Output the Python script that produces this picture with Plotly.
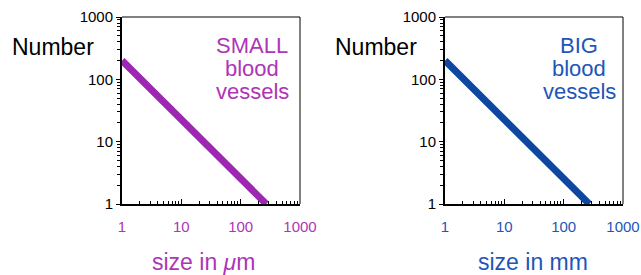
import plotly.graph_objects as go

# Data
sizes_small = [1, 270]
counts_small = [200, 1]
sizes_big = [1, 270]
counts_big = [200, 1]
tick_vals = [1, 10, 100, 1000]
tick_text = ["1", "10", "100", "1000"]
minor_vals = [m * d for d in (1, 10, 100) for m in range(2, 10)]

PURPLE_LINE = "#9C27B0"
PURPLE_TEXT = "#AD35B8"
BLUE_LINE = "#0D47A1"
BLUE_TEXT = "#1E56B8"
FONT = "Liberation Sans, Arial, sans-serif"

fig = go.Figure()
fig.add_trace(go.Scatter(x=sizes_small, y=counts_small, mode="lines",
                         line=dict(color=PURPLE_LINE, width=7), xaxis="x", yaxis="y",
                         showlegend=False, cliponaxis=True))
fig.add_trace(go.Scatter(x=sizes_big, y=counts_big, mode="lines",
                         line=dict(color=BLUE_LINE, width=7), xaxis="x2", yaxis="y2",
                         showlegend=False, cliponaxis=True))

W, H = 641, 275
def xd(a, b):
    return [a / W, b / W]
ydom = [1 - 204 / H, 1 - 17 / H]

def xaxis(dom, color, anchor):
    return dict(type="log", range=[0, 3], domain=dom, anchor=anchor,
                tickvals=tick_vals, ticktext=tick_text,
                tickfont=dict(color=color, size=15, family=FONT),
                ticks="inside", ticklen=5, tickcolor="black", tickwidth=1,
                minor=dict(tickvals=minor_vals, ticks="inside", ticklen=3,
                           tickcolor="black", tickwidth=1, showgrid=False),
                showline=True, linecolor="black", linewidth=2, mirror=False,
                showgrid=False, zeroline=False, ticklabelstandoff=8,
                automargin=False, fixedrange=True)

def yaxis(anchor):
    return dict(type="log", range=[0, 3], domain=ydom, anchor=anchor,
                tickvals=tick_vals, ticktext=tick_text,
                tickfont=dict(color="black", size=15, family=FONT),
                ticks="outside", ticklen=4, tickcolor="black", tickwidth=1,
                minor=dict(tickvals=minor_vals, ticks="outside", ticklen=3,
                           tickcolor="black", tickwidth=1, showgrid=False),
                showline=True, linecolor="black", linewidth=2, mirror=False,
                showgrid=False, zeroline=False, ticklabelstandoff=0,
                automargin=False, fixedrange=True)

fig.update_layout(
    template="none",
    width=W, height=H, autosize=False,
    margin=dict(l=0, r=0, t=0, b=0, pad=0),
    paper_bgcolor="white", plot_bgcolor="white",
    font=dict(family=FONT, color="black"),
    showlegend=False,
    xaxis=xaxis(xd(122, 300), PURPLE_TEXT, "y"),
    yaxis=yaxis("x"),
    xaxis2=xaxis(xd(445, 623), BLUE_TEXT, "y2"),
    yaxis2=yaxis("x2"),
)

# top/right frame lines
for xr, yr in [("x domain", "y domain"), ("x2 domain", "y2 domain")]:
    fig.add_shape(type="line", xref=xr, yref=yr, x0=0, x1=1, y0=1, y1=1,
                  line=dict(color="black", width=1))
    fig.add_shape(type="line", xref=xr, yref=yr, x0=1, x1=1, y0=0, y1=1,
                  line=dict(color="black", width=1))

def ann(text, x, y, color, size, height=None):
    kw = {}
    if height is not None:
        kw["height"] = height
    fig.add_annotation(text=text, x=x / W, y=1 - y / H, xref="paper", yref="paper",
                       showarrow=False, xanchor="center", yanchor="middle",
                       borderpad=0, font=dict(color=color, size=size, family=FONT), **kw)

ann("Number", 53, 47, "black", 23)
ann("Number", 376, 47, "black", 23)
for i, word in enumerate(["SMALL", "blood", "vessels"]):
    ann(word, 252, 45 + 23 * i, PURPLE_TEXT, 22, height=22)
for i, word in enumerate(["BIG", "blood", "vessels"]):
    ann(word, 579, 45 + 23 * i, BLUE_TEXT, 22, height=22)
ann("size in <i>μ</i>m", 203, 262, PURPLE_TEXT, 23)
ann("size in mm", 533, 262, BLUE_TEXT, 23)

fig.write_html("out.html", config={"displayModeBar": False, "staticPlot": True},
               post_script="document.body.style.margin='0';")
